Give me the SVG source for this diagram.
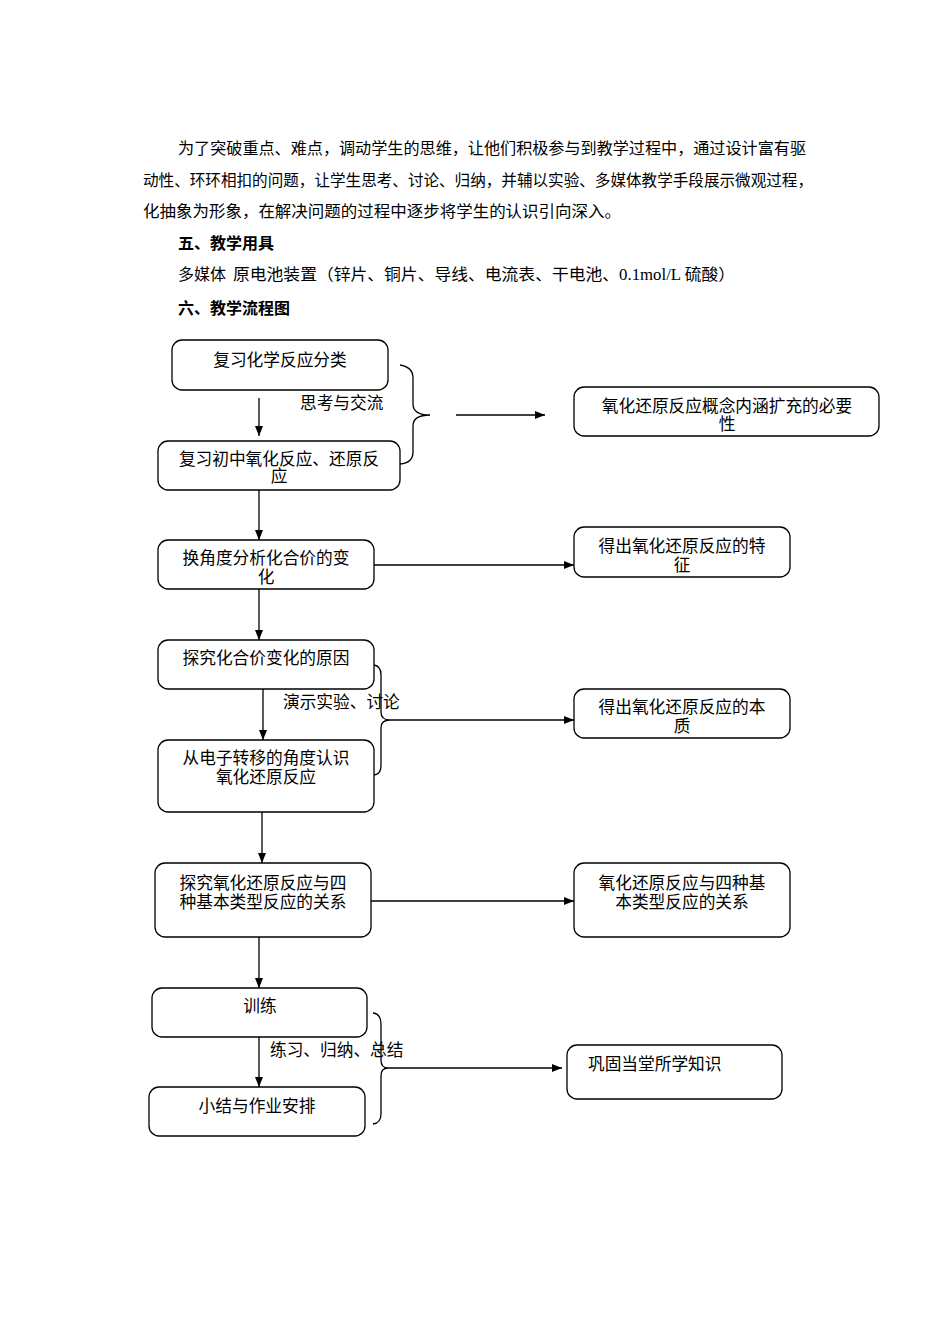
<svg xmlns="http://www.w3.org/2000/svg" width="950" height="1344" viewBox="0 0 950 1344">
<defs>
<marker id="ah" markerWidth="10" markerHeight="8" refX="10" refY="4" orient="auto" markerUnits="userSpaceOnUse">
<path d="M0,0 L10,4 L0,8 Z" fill="#000"/>
</marker>
</defs>
<style>
text{font-family:"Liberation Serif","Noto Sans CJK SC",serif;fill:#000;}
.p{font-size:16px;}
.b{font-size:16px;font-weight:bold;}
.n{font-size:16.7px;text-anchor:middle;}
.l{font-size:16.7px;}
.box{fill:#fff;stroke:#000;stroke-width:1.3;}
.c{fill:none;stroke:#000;stroke-width:1.3;}
.a{fill:none;stroke:#000;stroke-width:1.3;marker-end:url(#ah);}
</style>
<rect width="950" height="1344" fill="#fff"/>
<g id="intro">
<text class="p" x="178" y="154" textLength="628" lengthAdjust="spacingAndGlyphs">为了突破重点、难点，调动学生的思维，让他们积极参与到教学过程中，通过设计富有驱</text>
<text class="p" x="143" y="186" textLength="670" lengthAdjust="spacingAndGlyphs">动性、环环相扣的问题，让学生思考、讨论、归纳，并辅以实验、多媒体教学手段展示微观过程，</text>
<text class="p" x="143" y="217" textLength="478" lengthAdjust="spacingAndGlyphs">化抽象为形象，在解决问题的过程中逐步将学生的认识引向深入。</text>
<text class="b" x="178" y="249">五、教学用具</text>
<text class="p" x="178" y="280">多媒体</text>
<text class="p" x="233" y="280" textLength="502" lengthAdjust="spacingAndGlyphs">原电池装置（锌片、铜片、导线、电流表、干电池、0.1mol/L 硫酸）</text>
<text class="b" x="178" y="314">六、教学流程图</text>
</g>
<g id="connectors">
<line class="a" x1="259" y1="398" x2="259" y2="436"/>
<path class="c" d="M400,365 Q413,367 413,378 L413,404 Q413,415 430,415 Q413,415 413,426 L413,452 Q413,463 400,464"/>
<line class="a" x1="456" y1="415" x2="545" y2="415"/>
<line class="a" x1="259" y1="490" x2="259" y2="540"/>
<line class="a" x1="374" y1="565" x2="574" y2="565"/>
<line class="a" x1="259" y1="589" x2="259" y2="640"/>
<line class="a" x1="263" y1="689" x2="263" y2="740"/>
<path class="c" d="M374,665 Q381,666 381,675 L381,712 Q381,720 390,720 Q381,720 381,728 L381,766 Q381,774 374,775"/>
<line class="a" x1="390" y1="720" x2="574" y2="720"/>
<line class="a" x1="262" y1="812" x2="262" y2="863"/>
<line class="a" x1="371" y1="901" x2="574" y2="901"/>
<line class="a" x1="259" y1="937" x2="259" y2="988"/>
<line class="a" x1="259" y1="1037" x2="259" y2="1087"/>
<path class="c" d="M373,1013 Q381,1014 381,1024 L381,1060 Q381,1068 388,1068 Q381,1068 381,1076 L381,1114 Q381,1123 373,1124"/>
<line class="a" x1="388" y1="1068" x2="562" y2="1068"/>
<text class="l" x="300" y="409">思考与交流</text>
<text class="l" x="283" y="708">演示实验、讨论</text>
<text class="l" x="270" y="1056">练习、归纳、总结</text>
</g>
<g id="n1"><rect class="box" x="172" y="340" width="216" height="50" rx="10"/><text class="n" x="280" y="366">复习化学反应分类</text></g>
<g id="n2"><rect class="box" x="158" y="441" width="242" height="49" rx="10"/><text class="n" x="279" y="465">复习初中氧化反应、还原反</text><text class="n" x="279" y="482">应</text></g>
<g id="n3"><rect class="box" x="158" y="540" width="216" height="49" rx="10"/><text class="n" x="266" y="564">换角度分析化合价的变</text><text class="n" x="266" y="583">化</text></g>
<g id="n4"><rect class="box" x="158" y="640" width="216" height="49" rx="10"/><text class="n" x="266" y="664">探究化合价变化的原因</text></g>
<g id="n5"><rect class="box" x="158" y="740" width="216" height="72" rx="10"/><text class="n" x="266" y="764">从电子转移的角度认识</text><text class="n" x="266" y="783">氧化还原反应</text></g>
<g id="n6"><rect class="box" x="155" y="863" width="216" height="74" rx="10"/><text class="n" x="263" y="889">探究氧化还原反应与四</text><text class="n" x="263" y="908">种基本类型反应的关系</text></g>
<g id="n7"><rect class="box" x="152" y="988" width="215" height="49" rx="10"/><text class="n" x="260" y="1012">训练</text></g>
<g id="n8"><rect class="box" x="149" y="1087" width="216" height="49" rx="10"/><text class="n" x="257" y="1112">小结与作业安排</text></g>
<g id="r1"><rect class="box" x="574" y="387" width="305" height="49" rx="10"/><text class="n" x="727" y="412">氧化还原反应概念内涵扩充的必要</text><text class="n" x="727" y="430">性</text></g>
<g id="r2"><rect class="box" x="574" y="527" width="216" height="50" rx="10"/><text class="n" x="682" y="552">得出氧化还原反应的特</text><text class="n" x="682" y="571">征</text></g>
<g id="r3"><rect class="box" x="574" y="689" width="216" height="49" rx="10"/><text class="n" x="682" y="713">得出氧化还原反应的本</text><text class="n" x="682" y="732">质</text></g>
<g id="r4"><rect class="box" x="574" y="863" width="216" height="74" rx="10"/><text class="n" x="682" y="889">氧化还原反应与四种基</text><text class="n" x="682" y="908">本类型反应的关系</text></g>
<g id="r5"><rect class="box" x="567" y="1045" width="215" height="54" rx="10"/><text class="l" x="588" y="1070">巩固当堂所学知识</text></g>
</svg>
